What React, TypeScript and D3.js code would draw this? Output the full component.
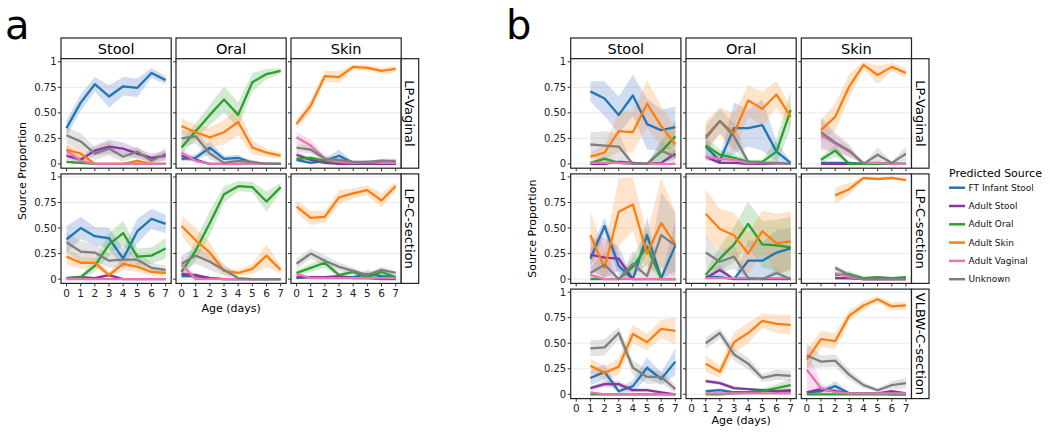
import React from "react";
import * as d3 from "d3";

const DAYS = [0, 1, 2, 3, 4, 5, 6, 7];
const SOURCES = ["FT Infant Stool", "Adult Stool", "Adult Oral", "Adult Skin", "Adult Vaginal", "Unknown"];
const COLORS = ["#1f77b4", "#86379b", "#2ca02c", "#ff7f0e", "#e873b5", "#7f7f7f"];
const FILLS = ["#5f82c8", "#9a5cb0", "#58b458", "#ff9a45", "#ee8cc4", "#9a9a9a"];
const SITES = ["Stool", "Oral", "Skin"];
const A_ROWS = ["LP-Vaginal", "LP-C-section"];
const B_ROWS = ["LP-Vaginal", "LP-C-section", "VLBW-C-section"];
const Y_TICKS = [0, 0.25, 0.5, 0.75, 1];
const Y_LABELS = ["0", "0.25", "0.50", "0.75", "1"];
const X_LABELS = ["0", "1", "2", "3", "4", "5", "6", "7"];

const N = null;
// series order: FT Infant Stool, Adult Stool, Adult Oral, Adult Skin, Adult Vaginal, Unknown
// ---- Panel a, LP-Vaginal
const A_VAG_STOOL_MEAN = [
  [0.35, 0.6, 0.78, 0.66, 0.76, 0.745, 0.89, 0.82],
  [0.08, 0.04, 0.13, 0.17, 0.15, 0.1, 0.06, 0.08],
  [0.02, 0.01, 0, 0, 0, 0, 0, 0],
  [0.14, 0.1, 0, 0, 0, 0.03, 0, 0],
  [0.13, 0.03, 0, 0, 0, 0, 0, 0],
  [0.28, 0.22, 0.1, 0.15, 0.07, 0.12, 0.03, 0.1],
];
const A_VAG_STOOL_SE = [
  [0.08, 0.08, 0.07, 0.11, 0.09, 0.09, 0.05, 0.04],
  [0.04, 0.03, 0.05, 0.07, 0.06, 0.05, 0.04, 0.05],
  [0.01, 0.01, 0, 0, 0, 0, 0, 0],
  [0.05, 0.05, 0, 0, 0, 0.02, 0, 0],
  [0.06, 0.03, 0, 0, 0, 0, 0, 0],
  [0.08, 0.08, 0.06, 0.07, 0.05, 0.05, 0.03, 0.06],
];
const A_VAG_ORAL_MEAN = [
  [0.05, 0.06, 0.16, 0.05, 0.06, 0.01, 0, 0],
  [0.08, 0.04, 0, 0, 0, 0, 0, 0],
  [0.16, 0.32, 0.48, 0.63, 0.48, 0.8, 0.88, 0.91],
  [0.37, 0.31, 0.26, 0.31, 0.41, 0.16, 0.11, 0.08],
  [0.11, 0.03, 0, 0, 0, 0, 0, 0],
  [0.25, 0.27, 0.1, 0.01, 0.03, 0.02, 0, 0],
];
const A_VAG_ORAL_SE = [
  [0.03, 0.03, 0.06, 0.03, 0.03, 0.01, 0, 0],
  [0.03, 0.02, 0, 0, 0, 0, 0, 0],
  [0.06, 0.08, 0.1, 0.13, 0.12, 0.09, 0.05, 0.03],
  [0.08, 0.07, 0.1, 0.12, 0.13, 0.07, 0.04, 0.03],
  [0.05, 0.02, 0, 0, 0, 0, 0, 0],
  [0.08, 0.07, 0.06, 0.01, 0.03, 0.02, 0, 0],
];
const A_VAG_SKIN_MEAN = [
  [0.04, 0.01, 0.03, 0.08, 0.01, 0, 0, 0],
  [0.09, 0.04, 0.01, 0, 0, 0, 0, 0],
  [0.05, 0.06, 0.03, 0.02, 0.01, 0.01, 0.03, 0.02],
  [0.39, 0.57, 0.86, 0.85, 0.95, 0.94, 0.91, 0.93],
  [0.26, 0.18, 0.05, 0.02, 0.01, 0.02, 0.01, 0.01],
  [0.16, 0.14, 0.05, 0.04, 0.02, 0.02, 0.03, 0.03],
];
const A_VAG_SKIN_SE = [
  [0.02, 0.01, 0.02, 0.06, 0.01, 0, 0, 0],
  [0.03, 0.02, 0.01, 0, 0, 0, 0, 0],
  [0.02, 0.02, 0.02, 0.01, 0.01, 0.01, 0.02, 0.01],
  [0.04, 0.06, 0.05, 0.06, 0.02, 0.03, 0.03, 0.03],
  [0.05, 0.06, 0.03, 0.01, 0.01, 0.02, 0.01, 0.01],
  [0.04, 0.04, 0.03, 0.02, 0.01, 0.01, 0.02, 0.02],
];
// ---- Panel a, LP-C-section
const A_CS_STOOL_MEAN = [
  [0.39, 0.5, 0.42, 0.4, 0.2, 0.47, 0.59, 0.54],
  [0.01, 0.02, 0.01, 0.04, 0, 0, 0, 0],
  [0.01, 0.02, 0.13, 0.34, 0.45, 0.22, 0.23, 0.3],
  [0.22, 0.16, 0.16, 0.04, 0.15, 0.12, 0.07, 0.06],
  [0, 0, 0, 0, 0, 0, 0, 0],
  [0.36, 0.27, 0.26, 0.18, 0.19, 0.19, 0.11, 0.09],
];
const A_CS_STOOL_SE = [
  [0.13, 0.11, 0.09, 0.1, 0.1, 0.12, 0.1, 0.09],
  [0.01, 0.01, 0.01, 0.02, 0, 0, 0, 0],
  [0.01, 0.02, 0.06, 0.11, 0.12, 0.08, 0.08, 0.1],
  [0.08, 0.06, 0.05, 0.03, 0.06, 0.05, 0.04, 0.03],
  [0, 0, 0, 0, 0, 0, 0, 0],
  [0.1, 0.1, 0.08, 0.07, 0.07, 0.07, 0.05, 0.04],
];
const A_CS_ORAL_MEAN = [
  [0.03, 0.03, 0.01, 0, 0, 0, 0, 0],
  [0.05, 0.04, 0.01, 0, 0, 0, 0, 0],
  [0.07, 0.28, 0.55, 0.83, 0.91, 0.9, 0.76, 0.9],
  [0.52, 0.38, 0.26, 0.08, 0.06, 0.1, 0.23, 0.09],
  [0.14, 0, 0, 0, 0, 0, 0, 0],
  [0.15, 0.23, 0.17, 0.09, 0.01, 0, 0, 0],
];
const A_CS_ORAL_SE = [
  [0.02, 0.02, 0.01, 0, 0, 0, 0, 0],
  [0.02, 0.02, 0.01, 0, 0, 0, 0, 0],
  [0.04, 0.1, 0.12, 0.08, 0.05, 0.05, 0.1, 0.04],
  [0.1, 0.12, 0.1, 0.04, 0.03, 0.05, 0.11, 0.04],
  [0.1, 0, 0, 0, 0, 0, 0, 0],
  [0.08, 0.08, 0.08, 0.06, 0.01, 0, 0, 0],
];
const A_CS_SKIN_MEAN = [
  [0.01, 0.02, 0.02, 0.02, 0.02, 0.05, 0.03, 0.02],
  [0.02, 0.02, 0.02, 0.03, 0.01, 0.01, 0, 0],
  [0.06, 0.11, 0.16, 0.04, 0.07, 0.02, 0.07, 0.02],
  [0.71, 0.6, 0.61, 0.8, 0.84, 0.87, 0.77, 0.91],
  [0.05, 0.01, 0.01, 0.01, 0.01, 0.01, 0.01, 0.01],
  [0.15, 0.25, 0.18, 0.12, 0.08, 0.04, 0.09, 0.06],
];
const A_CS_SKIN_SE = [
  [0.01, 0.01, 0.01, 0.01, 0.01, 0.04, 0.02, 0.01],
  [0.01, 0.01, 0.01, 0.01, 0.01, 0.01, 0, 0],
  [0.03, 0.04, 0.05, 0.02, 0.03, 0.01, 0.03, 0.01],
  [0.06, 0.07, 0.06, 0.07, 0.05, 0.05, 0.07, 0.04],
  [0.02, 0.01, 0.01, 0.01, 0.01, 0.01, 0.01, 0.01],
  [0.05, 0.05, 0.05, 0.04, 0.03, 0.02, 0.03, 0.02],
];
// ---- Panel b, LP-Vaginal
const B_VAG_STOOL_MEAN = [
  [N, 0.71, 0.64, 0.48, 0.67, 0.39, 0.33, 0.36],
  [N, 0, 0, 0.02, 0.01, 0, 0.01, 0.1],
  [N, 0.01, 0.05, 0.01, 0, 0, 0.12, 0.27],
  [N, 0.07, 0.11, 0.32, 0.31, 0.59, 0.37, 0.19],
  [N, 0.01, 0.01, 0.01, 0, 0, 0, 0],
  [N, 0.19, 0.18, 0.17, 0, 0, 0.13, 0.07],
];
const B_VAG_STOOL_SE = [
  [N, 0.1, 0.17, 0.18, 0.2, 0.25, 0.2, 0.2],
  [N, 0, 0.01, 0.02, 0.01, 0, 0.01, 0.05],
  [N, 0.01, 0.03, 0.01, 0, 0, 0.1, 0.16],
  [N, 0.04, 0.07, 0.2, 0.2, 0.23, 0.2, 0.15],
  [N, 0.01, 0.01, 0.01, 0, 0, 0, 0],
  [N, 0.12, 0.14, 0.13, 0, 0, 0.1, 0.06],
];
const B_VAG_ORAL_MEAN = [
  [N, 0.17, 0.03, 0.35, 0.35, 0.38, 0.12, 0.01],
  [N, 0.07, 0.01, 0.01, 0, 0, 0, 0],
  [N, 0.18, 0.09, 0.06, 0.02, 0.02, 0.12, 0.53],
  [N, 0.27, 0.42, 0.3, 0.62, 0.54, 0.68, 0.46],
  [N, 0.07, 0.05, 0.04, 0.01, 0.01, 0, 0],
  [N, 0.25, 0.42, 0.27, 0.02, 0.01, 0.01, 0],
];
const B_VAG_ORAL_SE = [
  [N, 0.08, 0.03, 0.25, 0.18, 0.25, 0.1, 0.01],
  [N, 0.03, 0.01, 0.01, 0, 0, 0, 0],
  [N, 0.08, 0.05, 0.04, 0.02, 0.02, 0.12, 0.18],
  [N, 0.15, 0.13, 0.2, 0.15, 0.17, 0.13, 0.1],
  [N, 0.04, 0.03, 0.02, 0.01, 0.01, 0, 0],
  [N, 0.12, 0.12, 0.13, 0.02, 0.01, 0.01, 0],
];
const B_VAG_SKIN_MEAN = [
  [N, 0.01, 0.01, 0.01, 0, 0.01, 0, 0],
  [N, 0, 0, 0, 0, 0, 0, 0],
  [N, 0.04, 0.13, 0, 0, 0, 0, 0],
  [N, 0.33, 0.46, 0.76, 0.97, 0.87, 0.95, 0.89],
  [N, 0.28, 0.2, 0.12, 0.01, 0.01, 0, 0],
  [N, 0.31, 0.21, 0.13, 0, 0.09, 0.01, 0.1],
];
const B_VAG_SKIN_SE = [
  [N, 0.01, 0.01, 0.01, 0, 0, 0, 0],
  [N, 0, 0, 0, 0, 0, 0, 0],
  [N, 0.03, 0.06, 0, 0, 0, 0, 0],
  [N, 0.1, 0.13, 0.12, 0.04, 0.09, 0.04, 0.05],
  [N, 0.15, 0.08, 0.05, 0.01, 0.01, 0, 0],
  [N, 0.15, 0.1, 0.06, 0, 0.07, 0.01, 0.07],
];
// ---- Panel b, LP-C-section
const B_CS_STOOL_MEAN = [
  [N, 0.2, 0.52, 0.13, 0, 0.43, 0.01, 0.33],
  [N, 0.24, 0.21, 0.2, 0, 0, 0, 0],
  [N, 0, 0, 0, 0.12, 0.32, 0, 0],
  [N, 0.43, 0.11, 0.66, 0.73, 0.25, 0.55, 0.34],
  [N, 0.04, 0, 0, 0, 0, 0, 0],
  [N, 0.06, 0.14, 0, 0.15, 0.03, 0.43, 0.33],
];
const B_CS_STOOL_SE = [
  [N, 0.08, 0.08, 0.1, 0, 0.18, 0.01, 0.25],
  [N, 0.15, 0.2, 0.12, 0, 0, 0, 0],
  [N, 0, 0, 0, 0.1, 0.18, 0, 0],
  [N, 0.23, 0.18, 0.33, 0.26, 0.2, 0.44, 0.32],
  [N, 0.02, 0, 0, 0, 0, 0, 0],
  [N, 0.05, 0.12, 0, 0.13, 0.03, 0.42, 0.32],
];
const B_CS_ORAL_MEAN = [
  [N, 0.02, 0.02, 0, 0.18, 0.18, 0.26, 0.3],
  [N, 0.01, 0.09, 0, 0, 0, 0, 0],
  [N, 0.04, 0.2, 0.34, 0.54, 0.34, 0.33, 0.31],
  [N, 0.64, 0.49, 0.43, 0.25, 0.47, 0.35, 0.37],
  [N, 0.01, 0.01, 0.01, 0.01, 0.01, 0.01, 0.01],
  [N, 0.26, 0.17, 0.22, 0.01, 0, 0.06, 0],
];
const B_CS_ORAL_SE = [
  [N, 0.02, 0.02, 0, 0.2, 0.18, 0.22, 0.2],
  [N, 0.01, 0.05, 0, 0, 0, 0, 0],
  [N, 0.04, 0.12, 0.17, 0.22, 0.23, 0.25, 0.3],
  [N, 0.24, 0.2, 0.22, 0.2, 0.2, 0.29, 0.29],
  [N, 0.005, 0.005, 0.005, 0.005, 0.005, 0.005, 0.005],
  [N, 0.16, 0.1, 0.12, 0.01, 0, 0.05, 0],
];
const B_CS_SKIN_MEAN = [
  [N, N, 0.01, 0.01, 0, 0, 0, 0],
  [N, N, 0.01, 0.01, 0, 0, 0, 0],
  [N, N, 0.04, 0.05, 0.01, 0.02, 0.01, 0.02],
  [N, N, 0.82, 0.88, 0.99, 0.98, 0.99, 0.97],
  [N, N, 0.06, 0.02, 0, 0, 0, 0],
  [N, N, 0.11, 0.04, 0, 0, 0, 0],
];
const B_CS_SKIN_SE = [
  [N, N, 0.01, 0.01, 0, 0, 0, 0],
  [N, N, 0.01, 0.01, 0, 0, 0, 0],
  [N, N, 0.02, 0.03, 0.01, 0.01, 0.01, 0.01],
  [N, N, 0.08, 0.06, 0.01, 0.01, 0.01, 0.01],
  [N, N, 0.03, 0.01, 0, 0, 0, 0],
  [N, N, 0.03, 0.02, 0, 0, 0, 0],
];
// ---- Panel b, VLBW-C-section
const B_VLBW_STOOL_MEAN = [
  [N, 0.16, 0.22, 0.03, 0.08, 0.26, 0.15, 0.32],
  [N, 0.06, 0.1, 0.1, 0.04, 0.04, 0.02, 0],
  [N, 0, 0, 0, 0, 0, 0, 0],
  [N, 0.28, 0.21, 0.27, 0.59, 0.51, 0.64, 0.62],
  [N, 0.02, 0, 0, 0, 0, 0, 0],
  [N, 0.45, 0.46, 0.6, 0.26, 0.17, 0.17, 0.05],
];
const B_VLBW_STOOL_SE = [
  [N, 0.07, 0.08, 0.02, 0.06, 0.1, 0.06, 0.13],
  [N, 0.02, 0.03, 0.03, 0.02, 0.02, 0.01, 0],
  [N, 0, 0, 0, 0, 0, 0, 0],
  [N, 0.07, 0.06, 0.08, 0.09, 0.08, 0.09, 0.13],
  [N, 0.01, 0, 0, 0, 0, 0, 0],
  [N, 0.08, 0.08, 0.06, 0.07, 0.07, 0.06, 0.04],
];
const B_VLBW_ORAL_MEAN = [
  [N, 0.03, 0.04, 0.02, 0.02, 0.04, 0.03, 0.03],
  [N, 0.13, 0.11, 0.06, 0.05, 0.04, 0.03, 0.04],
  [N, 0, 0, 0.01, 0.02, 0.03, 0.06, 0.09],
  [N, 0.3, 0.22, 0.51, 0.6, 0.72, 0.69, 0.68],
  [N, 0.01, 0.01, 0.01, 0.01, 0.01, 0.01, 0.01],
  [N, 0.5, 0.6, 0.39, 0.3, 0.16, 0.19, 0.18],
];
const B_VLBW_ORAL_SE = [
  [N, 0.01, 0.02, 0.01, 0.01, 0.02, 0.02, 0.02],
  [N, 0.02, 0.02, 0.02, 0.01, 0.01, 0.01, 0.01],
  [N, 0, 0, 0.01, 0.01, 0.02, 0.04, 0.06],
  [N, 0.08, 0.06, 0.1, 0.1, 0.07, 0.09, 0.1],
  [N, 0.005, 0.005, 0.005, 0.005, 0.005, 0.005, 0.005],
  [N, 0.06, 0.05, 0.06, 0.06, 0.04, 0.05, 0.05],
];
const B_VLBW_SKIN_MEAN = [
  [0.02, 0.03, 0.08, 0.01, 0.01, 0.01, 0, 0],
  [0.02, 0.05, 0.03, 0.01, 0.01, 0.01, 0.03, 0.01],
  [0, 0, 0, 0, 0, 0, 0, 0],
  [0.34, 0.54, 0.52, 0.77, 0.87, 0.93, 0.86, 0.87],
  [0.24, 0.06, 0.02, 0.01, 0.01, 0.01, 0.01, 0.01],
  [0.38, 0.32, 0.33, 0.19, 0.09, 0.04, 0.09, 0.11],
];
const B_VLBW_SKIN_SE = [
  [0.01, 0.02, 0.05, 0.01, 0.01, 0.01, 0, 0],
  [0.01, 0.02, 0.02, 0.01, 0.01, 0.01, 0.01, 0.01],
  [0, 0, 0, 0, 0, 0, 0, 0],
  [0.1, 0.08, 0.08, 0.05, 0.04, 0.03, 0.04, 0.04],
  [0.2, 0.05, 0.02, 0.01, 0.01, 0.01, 0.01, 0.01],
  [0.12, 0.06, 0.06, 0.05, 0.03, 0.02, 0.04, 0.05],
];

const A_PANELS = [
  [[A_VAG_STOOL_MEAN, A_VAG_STOOL_SE], [A_VAG_ORAL_MEAN, A_VAG_ORAL_SE], [A_VAG_SKIN_MEAN, A_VAG_SKIN_SE]],
  [[A_CS_STOOL_MEAN, A_CS_STOOL_SE], [A_CS_ORAL_MEAN, A_CS_ORAL_SE], [A_CS_SKIN_MEAN, A_CS_SKIN_SE]],
];
const B_PANELS = [
  [[B_VAG_STOOL_MEAN, B_VAG_STOOL_SE], [B_VAG_ORAL_MEAN, B_VAG_ORAL_SE], [B_VAG_SKIN_MEAN, B_VAG_SKIN_SE]],
  [[B_CS_STOOL_MEAN, B_CS_STOOL_SE], [B_CS_ORAL_MEAN, B_CS_ORAL_SE], [B_CS_SKIN_MEAN, B_CS_SKIN_SE]],
  [[B_VLBW_STOOL_MEAN, B_VLBW_STOOL_SE], [B_VLBW_ORAL_MEAN, B_VLBW_ORAL_SE], [B_VLBW_SKIN_MEAN, B_VLBW_SKIN_SE]],
];

const FONT = "DejaVu Sans, Verdana, sans-serif";
const PW = 110.2;
const PH = 109.5;
const ROW_STEP = 115.2;
const TOP = 58.7;
const STRIP_H = 20.7;
const RSTRIP_W = 17.5;
const DRAW_ORDER = [0, 1, 2, 3, 4, 5];

type Pt = { d: number; m: number | null; s: number | null };

function Panel({ x0, y0, mean, se, leftLabels, bottomLabels }: any) {
  const x = d3.scaleLinear().domain([-0.39, 7.39]).range([x0, x0 + PW]);
  const y = d3.scaleLinear().domain([-0.042, 1.03]).range([y0 + PH, y0]);
  const clamp = (v: number) => Math.max(0, Math.min(1, v));
  const line = d3
    .line<Pt>()
    .defined((p) => p.m != null)
    .x((p) => x(p.d))
    .y((p) => y(p.m as number));
  const area = d3
    .area<Pt>()
    .defined((p) => p.m != null)
    .x((p) => x(p.d))
    .y0((p) => y(clamp((p.m as number) - (p.s as number))))
    .y1((p) => y(clamp((p.m as number) + (p.s as number))));
  const series = mean.map((row: (number | null)[], i: number) =>
    DAYS.map((d, j) => ({ d, m: row[j], s: se[i][j] }))
  );
  return (
    <g>
      <rect x={x0} y={y0} width={PW} height={PH} fill="#fff" />
      {Y_TICKS.map((t) => (
        <line key={"g" + t} x1={x0} x2={x0 + PW} y1={y(t)} y2={y(t)} stroke="#ebebeb" strokeWidth={1} />
      ))}
      {DRAW_ORDER.map((i) => (
        <path key={"a" + i} d={area(series[i]) || ""} fill={FILLS[i]} fillOpacity={0.28} stroke="none" />
      ))}
      {DRAW_ORDER.map((i) => (
        <path key={"l" + i} d={line(series[i]) || ""} fill="none" stroke={COLORS[i]} strokeWidth={2.3} strokeLinejoin="round" />
      ))}
      <rect x={x0} y={y0} width={PW} height={PH} fill="none" stroke="#222" strokeWidth={1.2} />
      {Y_TICKS.map((t, k) => (
        <g key={"yt" + t}>
          <line x1={x0 - 3} x2={x0} y1={y(t)} y2={y(t)} stroke="#333" strokeWidth={1} />
          {leftLabels && (
            <text x={x0 - 4.5} y={y(t)} dy="0.35em" textAnchor="end" fontSize={10} fontFamily={FONT} fill="#222">
              {Y_LABELS[k]}
            </text>
          )}
        </g>
      ))}
      {DAYS.map((d, k) => (
        <g key={"xt" + d}>
          <line x1={x(d)} x2={x(d)} y1={y0 + PH} y2={y0 + PH + 3} stroke="#333" strokeWidth={1} />
          {bottomLabels && (
            <text x={x(d)} y={y0 + PH + 13.5} textAnchor="middle" fontSize={10.5} fontFamily={FONT} fill="#222">
              {X_LABELS[k]}
            </text>
          )}
        </g>
      ))}
    </g>
  );
}

function Facet({ xs, rows, panels, label, labelX, yLabelX, ageY }: any) {
  const last = rows.length - 1;
  const right = xs[2] + PW;
  const midY = TOP + (rows.length * ROW_STEP - (ROW_STEP - PH)) / 2;
  return (
    <g>
      <text x={labelX} y={38.5} fontSize={40} fontFamily={FONT} fill="#000">
        {label}
      </text>
      {SITES.map((s, c) => (
        <g key={s}>
          <rect x={xs[c]} y={TOP - STRIP_H} width={PW} height={STRIP_H} fill="#fff" stroke="#222" strokeWidth={1.2} />
          <text x={xs[c] + PW / 2} y={TOP - STRIP_H / 2} dy="0.36em" textAnchor="middle" fontSize={14.5} fontFamily={FONT} fill="#000">
            {s}
          </text>
        </g>
      ))}
      {rows.map((r: string, ri: number) => {
        const y0 = TOP + ri * ROW_STEP;
        return (
          <g key={r}>
            {SITES.map((s, c) => (
              <Panel
                key={s}
                x0={xs[c]}
                y0={y0}
                mean={panels[ri][c][0]}
                se={panels[ri][c][1]}
                leftLabels={c === 0}
                bottomLabels={ri === last}
              />
            ))}
            <rect x={right} y={y0} width={RSTRIP_W} height={PH} fill="#fff" stroke="#222" strokeWidth={1.2} />
            <text
              transform={`translate(${right + RSTRIP_W / 2},${y0 + PH / 2}) rotate(90)`}
              dy="0.36em"
              textAnchor="middle"
              fontSize={13}
              fontFamily={FONT}
              fill="#000"
            >
              {r}
            </text>
          </g>
        );
      })}
      <text
        transform={`translate(${yLabelX},${midY}) rotate(-90)`}
        textAnchor="middle"
        fontSize={11}
        fontFamily={FONT}
        fill="#000"
      >
        Source Proportion
      </text>
      <text x={(xs[0] + right) / 2} y={ageY} textAnchor="middle" fontSize={11} fontFamily={FONT} fill="#000">
        Age (days)
      </text>
    </g>
  );
}

export default function App() {
  const legendX = 949;
  const legendY0 = 187.7;
  const legendStep = 18.3;
  return (
    <svg width={1050} height={434} style={{ position: "absolute", left: 0, top: 0, background: "#fff" }}>
      <rect width={1050} height={434} fill="#fff" />
      <Facet xs={[61, 176, 291]} rows={A_ROWS} panels={A_PANELS} label="a" labelX={5} yLabelX={26} ageY={311.5} />
      <Facet xs={[570.7, 686, 801.3]} rows={B_ROWS} panels={B_PANELS} label="b" labelX={506} yLabelX={536} ageY={424} />
      <text x={legendX} y={176.5} fontSize={11} fontFamily={FONT} fill="#000">
        Predicted Source
      </text>
      {SOURCES.map((s, i) => (
        <g key={s}>
          <line
            x1={legendX}
            x2={legendX + 16}
            y1={legendY0 + i * legendStep}
            y2={legendY0 + i * legendStep}
            stroke={COLORS[i]}
            strokeWidth={2.5}
          />
          <text x={legendX + 19.5} y={legendY0 + i * legendStep} dy="0.35em" fontSize={9} fontFamily={FONT} fill="#111">
            {s}
          </text>
        </g>
      ))}
    </svg>
  );
}
